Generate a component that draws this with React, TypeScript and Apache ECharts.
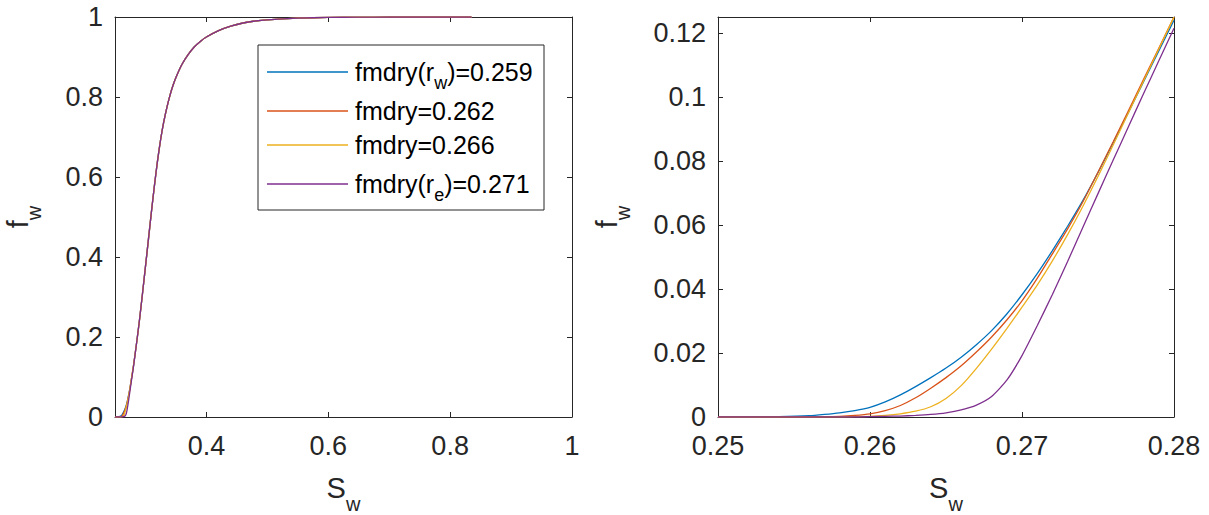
import React, { useEffect, useRef } from "react";
import * as echarts from "echarts";

// ---- data ----
const seriesNames = ["fmdry(rw)=0.259", "fmdry=0.262", "fmdry=0.266", "fmdry(re)=0.271"];
const seriesColors = ["#0072BD", "#D95319", "#EDB120", "#7E2F8E"];

// water saturation grid of the zoomed region
const swZoom = [0.25, 0.252, 0.254, 0.256, 0.257, 0.258, 0.259, 0.26, 0.261, 0.262, 0.263, 0.264, 0.265, 0.266, 0.267, 0.268, 0.269, 0.27, 0.271, 0.272, 0.273, 0.274, 0.275, 0.276, 0.277, 0.278, 0.279, 0.28];
const fwBlue = [0, 0, 0.0001, 0.0004, 0.0008, 0.0013, 0.002, 0.003, 0.0047, 0.0069, 0.0095, 0.0123, 0.0153, 0.0187, 0.0226, 0.027, 0.0322, 0.0382, 0.0448, 0.052, 0.0596, 0.0676, 0.0764, 0.0857, 0.0952, 0.1048, 0.1144, 0.124];
const fwRed = [0, 0, 0, 0, 0.0001, 0.0002, 0.0005, 0.001, 0.002, 0.0036, 0.006, 0.009, 0.0123, 0.016, 0.0203, 0.025, 0.0303, 0.0363, 0.0433, 0.051, 0.0588, 0.0672, 0.0765, 0.086, 0.0957, 0.1055, 0.1152, 0.125];
const fwYellow = [0, 0, 0, 0, 0, 0, 0.0001, 0.0002, 0.0005, 0.001, 0.0018, 0.0032, 0.0058, 0.0098, 0.0152, 0.0212, 0.0276, 0.0343, 0.0412, 0.0488, 0.057, 0.0658, 0.0752, 0.085, 0.095, 0.105, 0.115, 0.125];
const fwPurple = [0, 0, 0, 0, 0, 0, 0, 0.0001, 0.0002, 0.0003, 0.0005, 0.0008, 0.0013, 0.0022, 0.0037, 0.0064, 0.0115, 0.0192, 0.0285, 0.0383, 0.0486, 0.0592, 0.0698, 0.0803, 0.0907, 0.1011, 0.1113, 0.1215];

// common upper part of the curves (they coincide on the full-range plot)
const swTail = [0.285, 0.29, 0.295, 0.3, 0.305, 0.31, 0.315, 0.32, 0.325, 0.33, 0.335, 0.34, 0.345, 0.35, 0.36, 0.37, 0.38, 0.39, 0.4, 0.42, 0.44, 0.46, 0.48, 0.5, 0.55, 0.6, 0.65, 0.7, 0.835];
const fwTail = [0.18, 0.24, 0.307, 0.376, 0.446, 0.516, 0.582, 0.643, 0.695, 0.738, 0.773, 0.803, 0.828, 0.849, 0.882, 0.906, 0.925, 0.939, 0.95, 0.966, 0.977, 0.985, 0.99, 0.993, 0.997, 0.999, 0.9997, 1, 1];

const leftXTicks = [0.4, 0.6, 0.8, 1];
const leftYTicks = [0, 0.2, 0.4, 0.6, 0.8, 1];
const rightXTicks = [0.25, 0.26, 0.27, 0.28];
const rightYTicks = [0, 0.02, 0.04, 0.06, 0.08, 0.1, 0.12];

const fwAll = [fwBlue, fwRed, fwYellow, fwPurple];

const INK = "#262626";
const FONT = "'Liberation Sans', Arial, Helvetica, sans-serif";

function makeAxis(kind: "x" | "y", gridIndex: number, min: number, max: number, ticks: number[], main: boolean, name?: string, nameGap?: number) {
  const pos = kind === "x" ? (main ? "bottom" : "top") : main ? "left" : "right";
  const a: any = {
    type: "value",
    gridIndex,
    min,
    max,
    position: pos,
    axisLine: { show: true, onZero: false, lineStyle: { color: INK, width: 1 } },
    axisTick: { show: true, inside: true, length: 5, customValues: ticks, lineStyle: { color: INK, width: 1 } },
    axisLabel: main
      ? { show: true, customValues: ticks, color: INK, fontSize: 27, fontFamily: FONT, margin: kind === "x" ? 15 : 12 }
      : { show: false },
    splitLine: { show: false },
  };
  if (main && name) {
    a.name = name;
    a.nameLocation = "middle";
    a.nameGap = nameGap;
    if (kind === "y") a.nameRotate = 90;
    a.nameTextStyle = {
      rich: {
        m: { fontSize: 29, color: INK, fontFamily: FONT },
        s: { fontSize: 20, color: INK, fontFamily: FONT, padding: [32, 0, 0, 0] },
      },
    };
  }
  return a;
}

export default function App() {
  const ref = useRef<HTMLDivElement>(null);
  useEffect(() => {
    document.body.style.margin = "0";
    const chart = echarts.init(ref.current!, null, { renderer: "svg" });

    const mk = (fw: number[], k: number, xi: number, withTail: boolean) => ({
      type: "line",
      name: seriesNames[k],
      xAxisIndex: xi,
      yAxisIndex: xi,
      showSymbol: false,
      smooth: 0.2,
      lineStyle: { color: seriesColors[k], width: 1.3 },
      itemStyle: { color: seriesColors[k] },
      data: withTail
        ? swZoom.map((s, i) => [s, fw[i]]).concat(swTail.map((s, i) => [s, fwTail[i]]))
        : swZoom.map((s, i) => [s, fw[i]]),
    });
    const leftSeries = fwAll.map((fw, k) => mk(fw, k, 0, true));
    const rightSeries = fwAll.map((fw, k) => mk(fw, k, 2, false));

    const legendRows = [
      { y: 72, text: "{m|fmdry(r}{s|w}{m|)=0.259}" },
      { y: 111, text: "{m|fmdry=0.262}" },
      { y: 145, text: "{m|fmdry=0.266}" },
      { y: 184, text: "{m|fmdry(r}{s|e}{m|)=0.271}" },
    ];
    const legendRich = {
      m: { fontSize: 25, fontFamily: FONT, fill: "#000" },
      s: { fontSize: 18, fontFamily: FONT, fill: "#000", padding: [22, 0, 0, 0] },
    };

    const graphic: any[] = [
      {
        type: "rect",
        shape: { x: 258, y: 45, width: 286, height: 165 },
        style: { fill: "#fff", stroke: INK, lineWidth: 1 },
        z: 10,
      },
    ];
    legendRows.forEach((r, k) => {
      graphic.push({
        type: "line",
        shape: { x1: 267, y1: r.y, x2: 348, y2: r.y },
        style: { stroke: seriesColors[k], lineWidth: 1.3 },
        z: 11,
      });
      graphic.push({
        type: "text",
        x: 355,
        y: r.y,
        style: { text: r.text, rich: legendRich, align: "left", verticalAlign: "middle" },
        z: 11,
      });
    });

    chart.setOption({
      animation: false,
      backgroundColor: "#fff",
      grid: [
        { left: 115, top: 17, width: 457, height: 400, containLabel: false, outerBoundsMode: "none" },
        { left: 718, top: 17, width: 456, height: 400, containLabel: false, outerBoundsMode: "none" },
      ],
      xAxis: [
        makeAxis("x", 0, 0.25, 1, leftXTicks, true, "{m|S}{s|w}", 45),
        makeAxis("x", 0, 0.25, 1, leftXTicks, false),
        makeAxis("x", 1, 0.25, 0.28, rightXTicks, true, "{m|S}{s|w}", 45),
        makeAxis("x", 1, 0.25, 0.28, rightXTicks, false),
      ],
      yAxis: [
        makeAxis("y", 0, 0, 1, leftYTicks, true, "{m|f}{s|w}", 71),
        makeAxis("y", 0, 0, 1, leftYTicks, false),
        makeAxis("y", 1, 0, 0.125, rightYTicks, true, "{m|f}{s|w}", 85),
        makeAxis("y", 1, 0, 0.125, rightYTicks, false),
      ],
      series: [...leftSeries, ...rightSeries],
      graphic,
    });
    return () => chart.dispose();
  }, []);
  return <div ref={ref} style={{ width: 1209, height: 515 }} />;
}
